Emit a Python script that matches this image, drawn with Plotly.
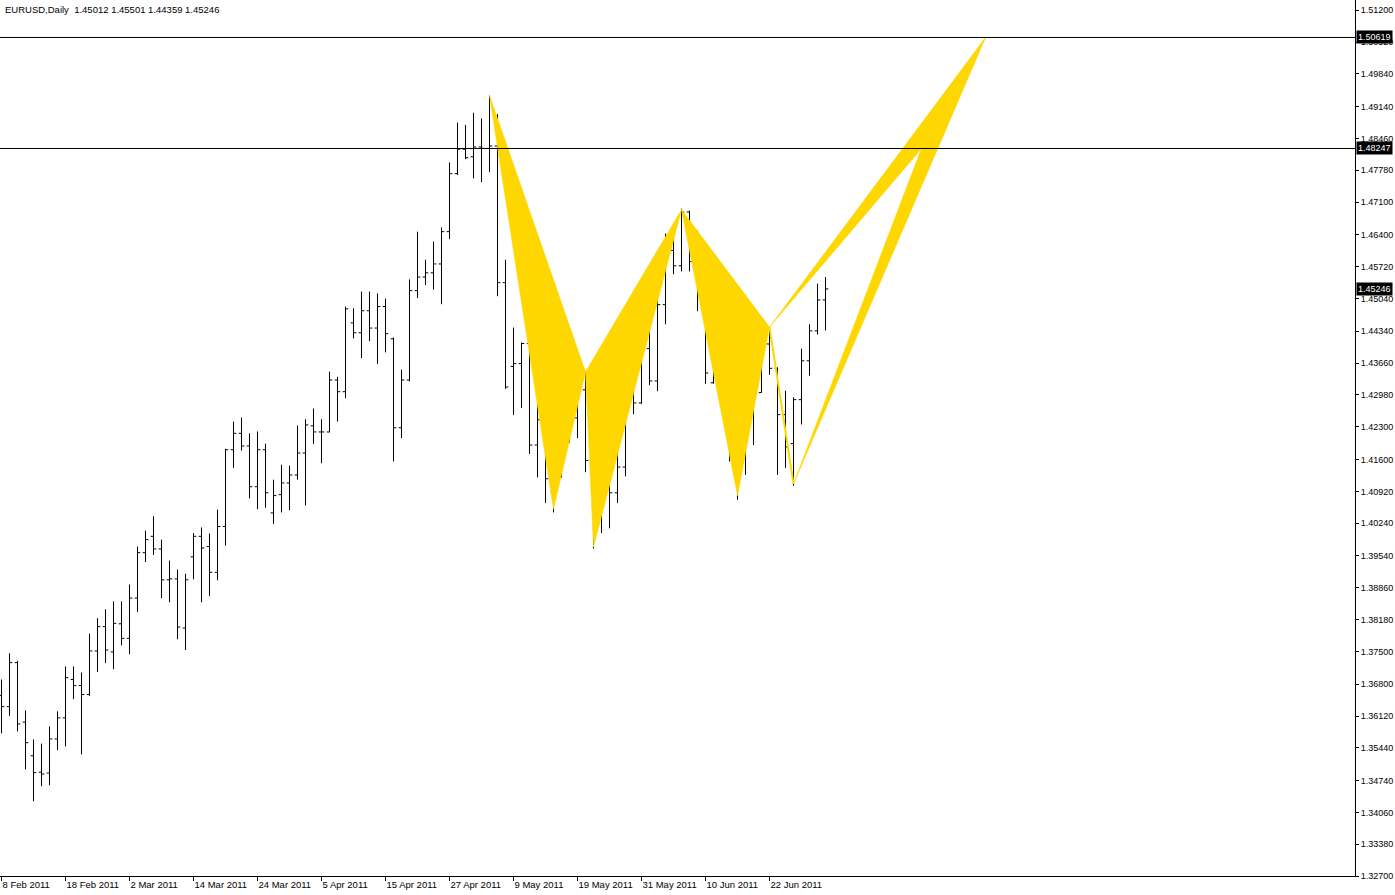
import plotly.graph_objects as go

# ---- data -------------------------------------------------------------
bar_index = list(range(104))
opens = [1.3656, 1.3632, 1.3726, 1.3599, 1.3527, 1.3492, 1.3490, 1.3563, 1.3608, 1.3690,
         1.3677, 1.3658, 1.3751, 1.3803, 1.3749, 1.3809, 1.3778, 1.3864, 1.3961, 1.3996,
         1.3969, 1.3903, 1.3905, 1.3800, 1.3952, 1.3996, 1.3974, 1.3919, 1.4017, 1.4181,
         1.4216, 1.4189, 1.4102, 1.4181, 1.4046, 1.4085, 1.4110, 1.4127, 1.4174, 1.4232,
         1.4219, 1.4219, 1.4330, 1.4305, 1.4452, 1.4431, 1.4478, 1.4441, 1.4487, 1.4418,
         1.4228, 1.4330, 1.4521, 1.4550, 1.4559, 1.4578, 1.4647, 1.4771, 1.4823, 1.4807,
         1.4828, 1.4825, 1.4830, 1.4538, 1.4359, 1.4365, 1.4408, 1.4191, 1.4245, 1.4090,
         1.4158, 1.4236, 1.4249, 1.4309, 1.4126, 1.4048, 1.4100, 1.4089, 1.4144, 1.4322,
         1.4281, 1.4397, 1.4328, 1.4491, 1.4607, 1.4574, 1.4689, 1.4583, 1.4510, 1.4324,
         1.4412, 1.4439, 1.4179, 1.4206, 1.4275, 1.4303, 1.4407, 1.4355, 1.4256, 1.4194,
         1.4288, 1.4371, 1.4435, 1.45012]
highs = [1.3690, 1.3746, 1.3730, 1.3624, 1.3562, 1.3553, 1.3590, 1.3622, 1.3718, 1.3718,
         1.3705, 1.3788, 1.3821, 1.3840, 1.3857, 1.3857, 1.3893, 1.3974, 1.4008, 1.4039,
         1.3989, 1.3944, 1.3925, 1.3916, 1.4003, 1.4015, 1.4002, 1.4053, 1.4183, 1.4241,
         1.4250, 1.4216, 1.4220, 1.4194, 1.4117, 1.4149, 1.4147, 1.4233, 1.4246, 1.4269,
         1.4246, 1.4348, 1.4337, 1.4487, 1.4483, 1.4519, 1.4519, 1.4515, 1.4504, 1.4421,
         1.4352, 1.4545, 1.4647, 1.4587, 1.4626, 1.4656, 1.4795, 1.4880, 1.4875, 1.4901,
         1.4889, 1.4938, 1.4898, 1.4587, 1.4442, 1.4410, 1.4423, 1.4278, 1.4340, 1.4246,
         1.4240, 1.4288, 1.4325, 1.4347, 1.4147, 1.4134, 1.4119, 1.4207, 1.4322, 1.4325,
         1.4425, 1.4459, 1.4513, 1.4643, 1.4658, 1.4696, 1.4692, 1.4649, 1.4551, 1.4429,
         1.4498, 1.4451, 1.4219, 1.4340, 1.4307, 1.4423, 1.4443, 1.4357, 1.4307, 1.4293,
         1.4397, 1.4449, 1.4536, 1.45501]
lows = [1.3575, 1.3612, 1.3579, 1.3498, 1.3430, 1.3462, 1.3464, 1.3539, 1.3547, 1.3648,
        1.3530, 1.3655, 1.3706, 1.3725, 1.3712, 1.3763, 1.3744, 1.3834, 1.3941, 1.3956,
        1.3864, 1.3855, 1.3776, 1.3753, 1.3904, 1.3855, 1.3868, 1.3902, 1.3976, 1.4142,
        1.4179, 1.4077, 1.4054, 1.4057, 1.4022, 1.4047, 1.4052, 1.4117, 1.4062, 1.4193,
        1.4152, 1.4218, 1.4241, 1.4291, 1.4419, 1.4377, 1.4413, 1.4364, 1.4389, 1.4156,
        1.4206, 1.4327, 1.4505, 1.4533, 1.4523, 1.4492, 1.4631, 1.4768, 1.4802, 1.4761,
        1.4753, 1.4774, 1.4509, 1.4311, 1.4255, 1.4270, 1.4172, 1.4122, 1.4067, 1.4047,
        1.4121, 1.4196, 1.4206, 1.4133, 1.3970, 1.4003, 1.4013, 1.4067, 1.4124, 1.4257,
        1.4279, 1.4319, 1.4306, 1.4449, 1.4556, 1.4562, 1.4562, 1.4477, 1.4322, 1.4322,
        1.4379, 1.4156, 1.4074, 1.4127, 1.4191, 1.4303, 1.4341, 1.4127, 1.4142, 1.4104,
        1.4235, 1.4339, 1.4427, 1.44359]
closes = [1.3632, 1.3726, 1.3595, 1.3555, 1.3491, 1.3488, 1.3563, 1.3608, 1.3694, 1.3677,
          1.3658, 1.3751, 1.3803, 1.3753, 1.3810, 1.3778, 1.3864, 1.3961, 1.3989, 1.3969,
          1.3903, 1.3905, 1.3802, 1.3903, 1.3996, 1.3971, 1.3919, 1.4017, 1.4181, 1.4216,
          1.4189, 1.4102, 1.4181, 1.4089, 1.4083, 1.4110, 1.4127, 1.4174, 1.4234, 1.4219,
          1.4219, 1.4330, 1.4305, 1.4482, 1.4431, 1.4478, 1.4441, 1.4487, 1.4429, 1.4228,
          1.4330, 1.4521, 1.4550, 1.4559, 1.4578, 1.4647, 1.4771, 1.4823, 1.4805, 1.4828,
          1.4825, 1.4830, 1.4538, 1.4315, 1.4365, 1.4408, 1.4191, 1.4245, 1.4119, 1.4160,
          1.4236, 1.4247, 1.4309, 1.4158, 1.4048, 1.4100, 1.4089, 1.4144, 1.4318, 1.4281,
          1.4397, 1.4328, 1.4491, 1.4630, 1.4574, 1.4689, 1.4583, 1.4510, 1.4345, 1.4412,
          1.4439, 1.4179, 1.4206, 1.4309, 1.4305, 1.4407, 1.4355, 1.4256, 1.4187, 1.4288,
          1.4371, 1.4435, 1.4501, 1.45246]

date_tick_bars = [0, 8, 16, 24, 32, 40, 48, 56, 64, 72, 80, 88, 96]
date_labels = ["8 Feb 2011", "18 Feb 2011", "2 Mar 2011", "14 Mar 2011", "24 Mar 2011",
               "5 Apr 2011", "15 Apr 2011", "27 Apr 2011", "9 May 2011", "19 May 2011",
               "31 May 2011", "10 Jun 2011", "22 Jun 2011"]
price_labels = ["1.51200", "1.50520", "1.49840", "1.49140", "1.48460", "1.47780", "1.47100",
                "1.46400", "1.45720", "1.45040", "1.44340", "1.43660", "1.42980", "1.42300",
                "1.41600", "1.40920", "1.40240", "1.39540", "1.38860", "1.38180", "1.37500",
                "1.36800", "1.36120", "1.35440", "1.34740", "1.34060", "1.33380", "1.32700"]

# harmonic pattern points (bar index, price)
p1_bars = [61, 69, 73, 74, 85]
p1_prices = [1.4938, 1.4054, 1.4347, 1.3973, 1.4694]
p2_bars = [85, 92, 96, 99, 123]
p2_prices = [1.4694, 1.4083, 1.4443, 1.4108, 1.50619]
zone_bar = 115
zone_price = 1.48247
level_prices = [1.50619, 1.48247]
last_price = 1.45246
header = "EURUSD,Daily  1.45012 1.45501 1.44359 1.45246"

GOLD = "#FFD700"
FONT = "Liberation Sans, Arial, sans-serif"

fig = go.Figure()


def tri(xs, ys):
    fig.add_trace(go.Scatter(x=xs + [xs[0]], y=ys + [ys[0]], mode="lines", fill="toself",
                             fillcolor=GOLD, line=dict(color=GOLD, width=0.6),
                             hoverinfo="skip", showlegend=False))


# pattern 1: XAB and BCD
tri(p1_bars[0:3], p1_prices[0:3])
tri(p1_bars[2:5], p1_prices[2:5])
# pattern 2: XAB
tri(p2_bars[0:3], p2_prices[0:3])
# pattern 2: projected D zone triangles
tri([p2_bars[2], zone_bar, p2_bars[4]], [p2_prices[2], zone_price, p2_prices[4]])
tri([p2_bars[3], zone_bar, p2_bars[4]], [p2_prices[3], zone_price, p2_prices[4]])
# B-C leg of pattern 2
fig.add_trace(go.Scatter(x=[p2_bars[2], p2_bars[3]], y=[p2_prices[2], p2_prices[3]],
                         mode="lines", line=dict(color=GOLD, width=2),
                         hoverinfo="skip", showlegend=False))

fig.add_trace(go.Ohlc(x=bar_index, open=opens, high=highs, low=lows, close=closes,
                      increasing=dict(line=dict(color="black", width=1)),
                      decreasing=dict(line=dict(color="black", width=1)),
                      tickwidth=0.35, hoverinfo="skip", showlegend=False))

for lv in level_prices:
    fig.add_shape(type="line", xref="paper", x0=0, x1=1, yref="y", y0=lv, y1=lv,
                  line=dict(color="black", width=1))

for lv in level_prices + [last_price]:
    fig.add_annotation(xref="paper", x=1, xanchor="left", xshift=1, yref="y", y=lv,
                       text=f"{lv:.5f}", showarrow=False, bgcolor="black",
                       font=dict(color="white", size=9, family=FONT), borderpad=1)

fig.add_annotation(xref="paper", x=0, xanchor="left", xshift=3, yref="paper", y=1,
                   yanchor="top", yshift=-2, text=header, showarrow=False,
                   font=dict(color="black", size=9.5, family=FONT))

fig.update_layout(
    width=1395, height=895,
    margin=dict(l=0, r=40, t=0, b=19),
    paper_bgcolor="white", plot_bgcolor="white",
    font=dict(family=FONT, size=9, color="black"),
    xaxis=dict(range=[-0.1875, 169.1875], showgrid=False, zeroline=False,
               showline=True, linecolor="black", linewidth=1,
               tickmode="array", tickvals=date_tick_bars, ticktext=date_labels,
               ticks="outside", ticklen=4, tickcolor="black", tickangle=0,
               tickfont=dict(size=9.5, family=FONT),
               ticklabelposition="outside right", automargin=False,
               rangeslider=dict(visible=False)),
    yaxis=dict(range=[1.32701, 1.51420], side="right", showgrid=False, zeroline=False,
               showline=True, linecolor="black", linewidth=1,
               tickmode="array", tickvals=[float(s) for s in price_labels],
               ticktext=price_labels, ticks="outside", ticklen=3, tickcolor="black",
               tickfont=dict(size=9, family=FONT), automargin=False),
)

fig.write_html("out.html", config={"displayModeBar": False},
               post_script="document.body.style.margin='0';document.body.style.padding='0';")
